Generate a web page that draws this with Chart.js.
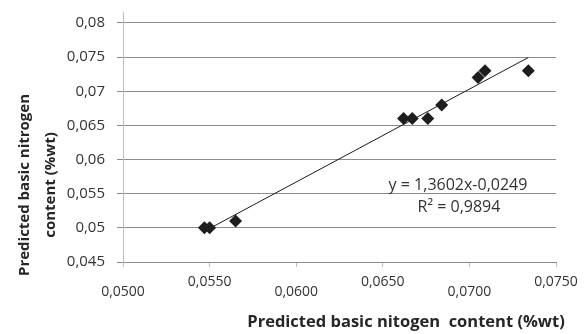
<!DOCTYPE html>
<html lang="en">
<head>
    <meta charset="UTF-8">
    <title>Predicted basic nitrogen content</title>
    <script src="https://cdn.jsdelivr.net/npm/chart.js"></script>
    <style>
        body { margin: 0; background: #fff; }
        .chart-container { position: relative; width: 588px; height: 334px; }
    </style>
</head>
<body>
    <div class="chart-container">
        <canvas id="chart"></canvas>
    </div>

    <script>
        // measured (x) vs predicted (y) basic nitrogen content, %wt
        const xValues = [0.0547, 0.0550, 0.0565, 0.0662, 0.0667, 0.0676, 0.0684, 0.0705, 0.0709, 0.0734];
        const yValues = [0.0500, 0.0500, 0.0510, 0.0660, 0.0660, 0.0660, 0.0680, 0.0720, 0.0730, 0.0730];

        // trendline as printed on the chart
        const slope = 1.3602;
        const intercept = -0.0249;
        const equationText = 'y = 1,3602x-0,0249';
        const r2Text = 'R² = 0,9894';

        const xTitle = 'Predicted basic nitogen  content (%wt)';
        const yTitle = ['Predicted basic nitrogen', 'content (%wt)'];

        const points = xValues.map((x, i) => ({ x: x, y: yValues[i] }));
        const xMin = Math.min(...xValues);
        const xMax = Math.max(...xValues);
        const trend = [
            { x: xMin, y: slope * xMin + intercept },
            { x: xMax, y: slope * xMax + intercept }
        ];

        const textColor = '#333';
        const gridColor = '#8c8c8c';
        const axisColor = '#bfbfbf';

        const titles = {
            id: 'titles',
            afterDraw(chart) {
                const ctx = chart.ctx;
                ctx.save();
                ctx.fillStyle = '#262626';
                ctx.textAlign = 'center';
                ctx.textBaseline = 'middle';

                ctx.font = 'bold 16.5px "Open Sans"';
                ctx.fillText(xTitle, 406, 322);

                ctx.font = 'bold 15px "Open Sans"';
                yTitle.forEach((line, i) => {
                    ctx.save();
                    ctx.translate(25 + i * 26, 185);
                    ctx.rotate(-Math.PI / 2);
                    ctx.fillText(line, 0, 0);
                    ctx.restore();
                });

                ctx.font = '16px "Open Sans"';
                ctx.fillStyle = textColor;
                ctx.fillText(equationText, 458, 185);
                ctx.fillText(r2Text, 459, 207);
                ctx.restore();
            }
        };

        const ctx = document.getElementById('chart').getContext('2d');

        new Chart(ctx, {
            type: 'scatter',
            data: {
                datasets: [{
                    label: 'Data',
                    data: points,
                    pointStyle: 'rectRot',
                    pointRadius: 6.5,
                    backgroundColor: '#1e1e1e',
                    borderColor: '#1e1e1e',
                    borderWidth: 0
                }, {
                    label: 'Trend',
                    type: 'line',
                    data: trend,
                    borderColor: '#1a1a1a',
                    borderWidth: 1,
                    pointRadius: 0,
                    fill: false
                }]
            },
            options: {
                responsive: true,
                maintainAspectRatio: false,
                animation: false,
                layout: { padding: { top: 12, right: 32, bottom: 0, left: 0 } },
                scales: {
                    x: {
                        type: 'linear',
                        min: 0.05,
                        max: 0.075,
                        afterFit: (scale) => { scale.height = 72; },
                        ticks: {
                            stepSize: 0.005,
                            color: textColor,
                            padding: 10,
                            maxRotation: 0,
                            autoSkip: false,
                            font: { family: 'Open Sans', size: 14, lineHeight: 0.72 },
                            callback: (value, i) => {
                                const label = value.toFixed(4).replace('.', ',');
                                return i % 2 === 0 ? ['', label] : label;
                            }
                        },
                        grid: {
                            drawOnChartArea: false,
                            drawTicks: true,
                            tickLength: 5,
                            color: axisColor
                        },
                        border: { color: gridColor }
                    },
                    y: {
                        min: 0.045,
                        max: 0.0816,
                        afterFit: (scale) => {
                            scale.width = 123;
                            scale.paddingTop = 0;
                            scale.paddingBottom = 0;
                        },
                        ticks: {
                            stepSize: 0.005,
                            includeBounds: false,
                            color: textColor,
                            padding: 12,
                            font: { family: 'Open Sans', size: 15 },
                            callback: (value) => String(+value.toFixed(3)).replace('.', ',')
                        },
                        grid: {
                            color: gridColor,
                            tickLength: 6
                        },
                        border: { color: axisColor }
                    }
                },
                plugins: {
                    legend: { display: false },
                    tooltip: { enabled: false }
                }
            },
            plugins: [titles]
        });
    </script>
</body>
</html>
